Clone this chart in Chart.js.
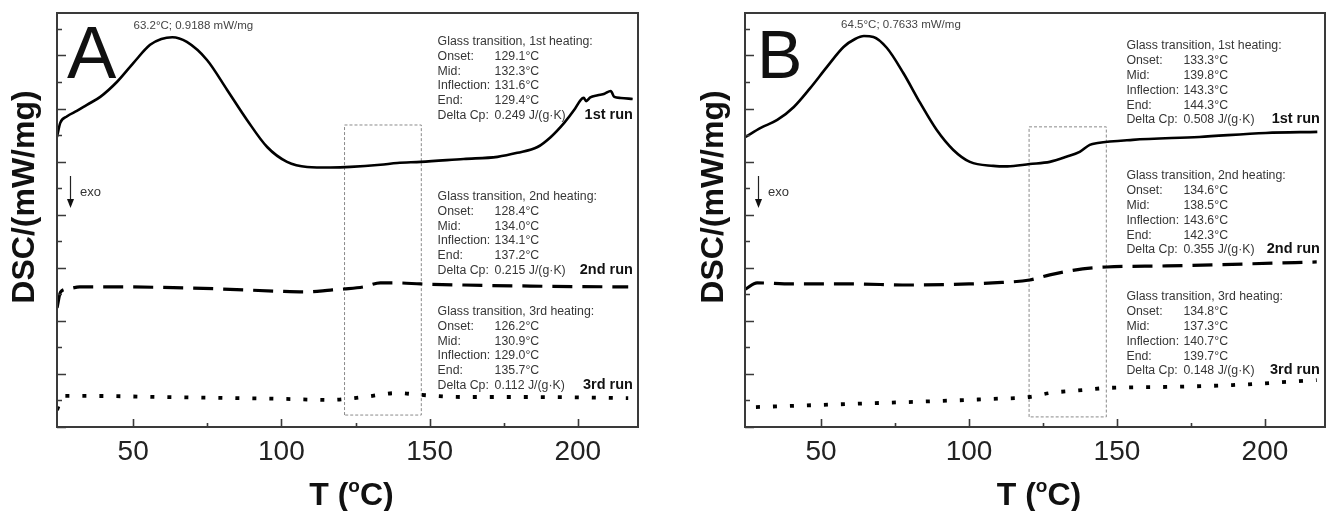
<!DOCTYPE html>
<html>
<head>
<meta charset="utf-8">
<script src="https://cdn.jsdelivr.net/npm/chart.js@4.4.1/dist/chart.umd.min.js"></script>
<style>
  html, body { margin: 0; padding: 0; background: #fff; }
  body { width: 1331px; height: 511px; position: relative; overflow: hidden; }
  canvas { position: absolute; top: 0; }
  #panelA { left: 0; }
  #panelB { left: 665px; }
</style>
</head>
<body>
<canvas id="panelA" width="660" height="511"></canvas>
<canvas id="panelB" width="666" height="511"></canvas>
<script>
// temperature axis (°C), same for both panels
const tMin = 24.3, tMax = 220.3;
const tMajor = [50, 100, 150, 200];
const tMinor = [75, 125, 175];

const runNames = ["1st", "2nd", "3rd"];
const tgRows = ["Onset:", "Mid:", "Inflection:", "End:", "Delta Cp:"];

// ---- sample A: three heating runs, DSC in mW/mg (runs offset vertically)
const tempA1 = [24.3, 25.4, 27.6, 31.0, 34.4, 38.9, 44.5, 50.1, 55.7, 59.5,
  63.2, 68.1, 74.9, 81.7, 88.4, 95.2, 101.9, 108.7, 116.6, 123.3,
  133.4, 139.1, 147.0, 161.5, 172.9, 179.6, 186.4, 190.9, 195.4, 198.8,
  201.0, 202.0, 202.8, 204.2, 206.7, 209.0, 211.1, 212.3, 214.5, 218.5];
const dscA1 = [0.543, 0.596, 0.620, 0.641, 0.664, 0.694, 0.750, 0.822, 0.890, 0.912,
  0.9188, 0.901, 0.833, 0.720, 0.607, 0.505, 0.449, 0.430, 0.428, 0.430,
  0.438, 0.445, 0.449, 0.460, 0.468, 0.483, 0.505, 0.543, 0.596, 0.645,
  0.683, 0.690, 0.678, 0.692, 0.700, 0.706, 0.716, 0.694, 0.690, 0.686];
const tempA2 = [24.3, 25.5, 28.0, 32.0, 45.0, 60.0, 80.0, 100.0, 108.0, 116.6,
  121.0, 127.7, 133.4, 139.2, 147.0, 161.5, 184.0, 200.0, 217.0];
const dscA2 = [-0.101, -0.041, -0.030, -0.022, -0.022, -0.024, -0.030, -0.039, -0.041, -0.034,
  -0.030, -0.022, -0.007, -0.007, -0.011, -0.015, -0.019, -0.021, -0.022];
const tempA3 = [24.3, 25.5, 27.0, 35.0, 60.0, 100.0, 116.6, 127.7, 139.2, 147.0, 161.5, 184.0, 217.0];
const dscA3 = [-0.486, -0.452, -0.433, -0.433, -0.437, -0.444, -0.448, -0.437, -0.422, -0.429, -0.437, -0.437, -0.441];
const peakA = [63.2, 0.9188];
const onsetA = [129.1, 128.4, 126.2];
const midA = [132.3, 134.0, 130.9];
const inflA = [131.6, 134.1, 129.0];
const endA = [129.4, 137.2, 135.7];
const cpA = [0.249, 0.215, 0.112];
const boxTA = [121.3, 147.2];
const boxDscA = [-0.505, 0.588];

// ---- sample B
const tempB1 = [24.5, 29.6, 35.2, 40.8, 46.4, 52.0, 57.6, 61.5, 64.5, 67.7,
  72.2, 77.8, 83.5, 89.1, 94.7, 100.3, 108.2, 113.0, 120.5, 127.3,
  132.9, 137.4, 140.8, 143.5, 155.3, 177.8, 200.3, 217.7];
const dscB1 = [0.383, 0.417, 0.447, 0.496, 0.568, 0.647, 0.722, 0.752, 0.7633, 0.760,
  0.719, 0.624, 0.511, 0.409, 0.334, 0.289, 0.274, 0.272, 0.281, 0.289,
  0.308, 0.327, 0.353, 0.360, 0.372, 0.383, 0.398, 0.402];
const tempB2 = [24.5, 28.4, 40.0, 60.0, 80.0, 100.0, 108.0, 120.5, 127.3, 138.4, 146.5, 166.7, 188.9, 217.5];
const dscB2 = [-0.190, -0.167, -0.171, -0.171, -0.175, -0.171, -0.167, -0.156, -0.137, -0.114, -0.107, -0.103, -0.097, -0.088];
const tempB3 = [28.0, 60.0, 90.0, 108.0, 120.5, 127.3, 138.4, 146.5, 166.7, 188.9, 217.5];
const dscB3 = [-0.635, -0.623, -0.612, -0.604, -0.597, -0.582, -0.571, -0.563, -0.559, -0.552, -0.533];
const peakB = [64.5, 0.7633];
const onsetB = [133.3, 134.6, 134.8];
const midB = [139.8, 138.5, 137.3];
const inflB = [143.3, 143.6, 140.7];
const endB = [144.3, 142.3, 139.7];
const cpB = [0.508, 0.355, 0.148];
const boxTB = [120.3, 146.4];
const boxDscB = [-0.672, 0.421];

const FONT = "'Liberation Sans', Arial, Helvetica, sans-serif";
const LINE_STYLES = [
  { borderWidth: 2.6, borderDash: [] },
  { borderWidth: 3.2, borderDash: [20, 10] },
  { borderWidth: 3.8, borderDash: [4, 13] }
];

function zip(xs, ys) {
  return xs.map((x, i) => ({ x: x, y: ys[i] }));
}

function boxPoints(ts, ds) {
  return [
    { x: ts[0], y: ds[0] }, { x: ts[0], y: ds[1] },
    { x: ts[1], y: ds[1] }, { x: ts[1], y: ds[0] }, { x: ts[0], y: ds[0] }
  ];
}

function decorPlugin(p) {
  return {
    id: "decor" + p.letter,
    afterDraw(chart) {
      const ctx = chart.ctx;
      const area = chart.chartArea;
      const xs = chart.scales.x, ys = chart.scales.y;
      ctx.save();

      // frame
      ctx.strokeStyle = "#3a3a3a";
      ctx.lineWidth = 2;
      ctx.strokeRect(area.left, area.top, area.right - area.left, area.bottom - area.top);

      // inward tick marks
      ctx.lineWidth = 1.6;
      ctx.beginPath();
      tMajor.forEach(v => {
        const px = Math.round(xs.getPixelForValue(v)) + 0.5;
        ctx.moveTo(px, area.bottom); ctx.lineTo(px, area.bottom - 8);
      });
      tMinor.forEach(v => {
        const px = Math.round(xs.getPixelForValue(v)) + 0.5;
        ctx.moveTo(px, area.bottom); ctx.lineTo(px, area.bottom - 4);
      });
      ys.ticks.forEach((t, i) => {
        const py = Math.round(ys.getPixelForValue(t.value)) + 0.5;
        ctx.moveTo(area.left, py); ctx.lineTo(area.left + (i % 2 === 0 ? 9 : 5), py);
      });
      ctx.stroke();

      ctx.fillStyle = "#111";
      // panel letter
      ctx.font = p.letterSize + "px " + FONT;
      ctx.textAlign = "left";
      ctx.textBaseline = "alphabetic";
      ctx.fillText(p.letter, area.left + p.letterDx, area.top + 65);

      // exo arrow
      const ax = area.left + 13.5;
      ctx.strokeStyle = "#222";
      ctx.lineWidth = 1.2;
      ctx.beginPath();
      ctx.moveTo(ax, area.top + 163); ctx.lineTo(ax, area.top + 190);
      ctx.stroke();
      ctx.beginPath();
      ctx.moveTo(ax - 3.5, area.top + 186); ctx.lineTo(ax + 3.5, area.top + 186); ctx.lineTo(ax, area.top + 195);
      ctx.closePath();
      ctx.fill();
      ctx.fillStyle = "#333";
      ctx.font = "13px " + FONT;
      ctx.textBaseline = "middle";
      ctx.fillText("exo", area.left + 23, area.top + 179);

      // peak label
      ctx.font = "11.5px " + FONT;
      ctx.fillStyle = "#444";
      ctx.textAlign = "center";
      ctx.fillText(p.peak[0] + "°C; " + p.peak[1] + " mW/mg",
        xs.getPixelForValue(p.peakLabelT), ys.getPixelForValue(p.peak[1]) - 11);

      // glass transition notes
      const colX = xs.getPixelForValue(p.noteT);
      const runX = xs.getPixelForValue(218.6);
      for (let r = 0; r < 3; r++) {
        const y0 = ys.getPixelForValue(p.noteY[r]);
        ctx.textAlign = "left";
        ctx.font = "12.3px " + FONT;
        ctx.fillStyle = "#363636";
        ctx.fillText("Glass transition, " + runNames[r] + " heating:", colX, y0);
        const vals = [
          p.onset[r].toFixed(1) + "°C",
          p.mid[r].toFixed(1) + "°C",
          p.infl[r].toFixed(1) + "°C",
          p.end[r].toFixed(1) + "°C",
          p.cp[r].toFixed(3) + " J/(g·K)"
        ];
        tgRows.forEach((lab, k) => {
          const ly = y0 + (k + 1) * 14.8;
          ctx.fillText(lab, colX, ly);
          ctx.fillText(vals[k], colX + 57, ly);
        });
        ctx.textAlign = "right";
        ctx.font = "bold 14.5px " + FONT;
        ctx.fillStyle = "#111";
        ctx.fillText(runNames[r] + " run", runX, y0 + 5 * 14.8 - 1);
      }

      // axis titles
      ctx.fillStyle = "#111";
      ctx.save();
      ctx.translate(p.yTitleX, (area.top + area.bottom) / 2 - 23);
      ctx.rotate(-Math.PI / 2);
      ctx.textAlign = "center";
      ctx.font = "bold 32px " + FONT;
      ctx.fillText("DSC/(mW/mg)", 0, 0);
      ctx.restore();

      const big = "bold 32px " + FONT, small = "bold 19px " + FONT;
      ctx.textAlign = "left";
      ctx.textBaseline = "alphabetic";
      ctx.font = big;
      const w1 = ctx.measureText("T (").width, w3 = ctx.measureText("C)").width;
      ctx.font = small;
      const w2 = ctx.measureText("o").width;
      let tx = (area.left + area.right) / 2 + 4 - (w1 + w2 + w3) / 2;
      const base = 505;
      ctx.font = big; ctx.fillText("T (", tx, base); tx += w1;
      ctx.font = small; ctx.fillText("o", tx, base - 13); tx += w2;
      ctx.font = big; ctx.fillText("C)", tx, base);

      ctx.restore();
    }
  };
}

function makePanel(canvasId, p) {
  const datasets = p.runs.map((run, i) => ({
    data: zip(run[0], run[1]),
    borderColor: "#000",
    borderWidth: LINE_STYLES[i].borderWidth,
    borderDash: LINE_STYLES[i].borderDash,
    pointRadius: 0,
    cubicInterpolationMode: "monotone",
    fill: false
  }));
  datasets.push({
    data: boxPoints(p.boxT, p.boxDsc),
    borderColor: "#8a8a8a",
    borderWidth: 1,
    borderDash: [3, 2],
    pointRadius: 0,
    tension: 0,
    fill: false
  });

  const yTicks = [];
  for (let k = 0; p.yMin + k * 0.1 <= p.yMax + 1e-9; k++) yTicks.push(p.yMin + k * 0.1);

  new Chart(document.getElementById(canvasId), {
    type: "line",
    data: { datasets: datasets },
    options: {
      responsive: false,
      devicePixelRatio: 1,
      animation: false,
      events: [],
      layout: { padding: { left: 0, right: p.padRight, top: 13, bottom: 0 } },
      plugins: { legend: { display: false }, tooltip: { enabled: false } },
      scales: {
        x: {
          type: "linear",
          min: tMin,
          max: tMax,
          grid: { display: false, drawTicks: false },
          border: { display: false },
          afterBuildTicks: s => { s.ticks = tMajor.map(v => ({ value: v })); },
          afterFit: s => { s.height = 84; },
          ticks: {
            padding: 8,
            color: "#222",
            font: { family: FONT, size: 28 },
            callback: v => String(v)
          }
        },
        y: {
          type: "linear",
          min: p.yMin,
          max: p.yMax,
          grid: { display: false, drawTicks: false },
          border: { display: false },
          afterBuildTicks: s => { s.ticks = yTicks.map(v => ({ value: v })); },
          afterFit: s => { s.width = p.yAxisWidth; },
          ticks: { display: false }
        }
      }
    },
    plugins: [decorPlugin(p)]
  });
}

makePanel("panelA", {
  letter: "A", letterSize: 74, letterDx: 10,
  runs: [[tempA1, dscA1], [tempA2, dscA2], [tempA3, dscA3]],
  peak: peakA, peakLabelT: 70.3,
  onset: onsetA, mid: midA, infl: inflA, end: endA, cp: cpA,
  noteT: 152.7, noteY: [0.902, 0.318, -0.115],
  boxT: boxTA, boxDsc: boxDscA,
  yMin: -0.55, yMax: 1.01,
  yAxisWidth: 57, padRight: 22, yTitleX: 25
});

makePanel("panelB", {
  letter: "B", letterSize: 68, letterDx: 12,
  runs: [[tempB1, dscB1], [tempB2, dscB2], [tempB3, dscB3]],
  peak: peakB, peakLabelT: 77.0,
  onset: onsetB, mid: midB, infl: inflB, end: endB, cp: cpB,
  noteT: 153.2, noteY: [0.726, 0.236, -0.220],
  boxT: boxTB, boxDsc: boxDscB,
  yMin: -0.71, yMax: 0.85,
  yAxisWidth: 80, padRight: 6, yTitleX: 49
});
</script>
</body>
</html>
